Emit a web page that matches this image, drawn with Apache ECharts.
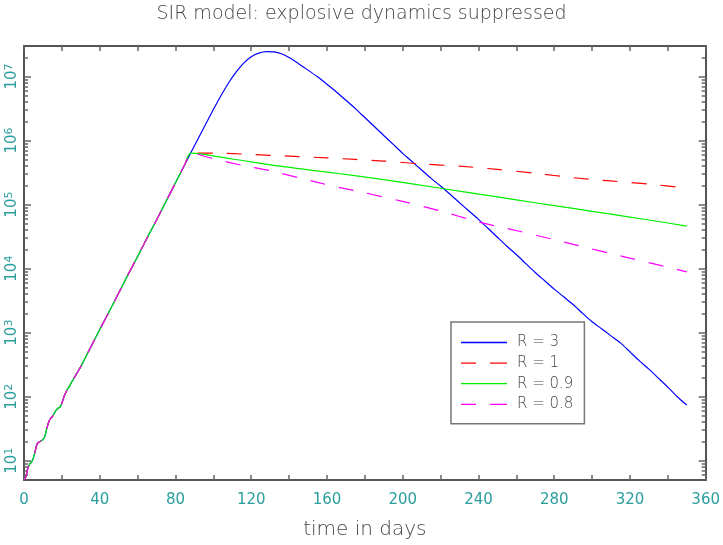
<!DOCTYPE html>
<html><head><meta charset="utf-8">
<script src="https://cdn.jsdelivr.net/npm/echarts@6/dist/echarts.min.js"></script>
<style>html,body{margin:0;padding:0;background:#fff}#chart{width:723px;height:545px}</style>
</head><body><div id="chart"></div>
<script>
const titleText = 'SIR model: explosive dynamics suppressed';
const xAxisName = 'time in days';
const xMin = 0, xMax = 360, xStep = 40;
const yMin = 5, yMax = 3e7;
const yMajorTicks = [10, 100, 1e3, 1e4, 1e5, 1e6, 1e7];
const yMinorTicks = [6,7,8,9, 20,30,40,50,60,70,80,90, 200,300,400,500,600,700,800,900,
  2e3,3e3,4e3,5e3,6e3,7e3,8e3,9e3, 2e4,3e4,4e4,5e4,6e4,7e4,8e4,9e4,
  2e5,3e5,4e5,5e5,6e5,7e5,8e5,9e5, 2e6,3e6,4e6,5e6,6e6,7e6,8e6,9e6, 2e7];
const seriesNames = ['R = 3', 'R = 1', 'R = 0.9', 'R = 0.8'];
const seriesColors = ['#0000ff', '#ff0000', '#00ee00', '#ff00ff'];

// shared early phase (all scenarios identical)
const earlyDays  = [0,1,2,3,4,5,6,7,8,9,10,11,12,13,14,15,16,17,18,19,20,21,22,23,24,25,26,27,28,29,30,35,40,45,50,55,60,65,70,75,80,85];
const earlyCases = [5,5.6,7.6,8.9,9.5,11.2,14.5,18.6,19.5,20.4,21.4,24,31.6,39.8,45.7,49,55,61.7,66,69,79,98,115,132,145,166,186,209,234,263,295,575,1120,2140,4170,8130,15500,30200,57500,112000,219000,427000];

// R = 3
const r3Days  = [88,92,96,100,104,108,112,116,120,124,128,132,136,140,145,150,155,160,165,170,175,180,185,190,195,200,205,210,215,220,225,230,235,240,245,250,255,260,265,270,275,280,285,290,295,300,305,310,315,320,325,330,335,340,345,350];
const r3Cases = [638000,1080000,1820000,3050000,5010000,7940000,11700000,16200000,20400000,23200000,24500000,24300000,22700000,19800000,15900000,12600000,9900000,
  7590000,5750000,4270000,3160000,2290000,1660000,1200000,871000,631000,468000,347000,257000,195000,145000,107000,79400,58900,42700,30900,22400,16600,12000,8710,6460,4790,3630,2750,2000,1480,1150,891,692,501,363,269,195,141,100,74];
// R = 1
const r1Days  = [88,100,115,130,145,160,175,190,210,230,250,270,290,310,330,350];
const r1Cases = [638000,638000,617000,589000,562000,537000,507000,479000,432000,398000,355000,309000,263000,234000,209000,182000];
// R = 0.9
const r09Days  = [88,110,135,165,190,220,250,270,290,310,330,350];
const r09Cases = [638000,516000,398000,309000,245000,180000,132000,107000,87100,70800,57500,46200];
// R = 0.8
const r08Days  = [88,100,115,130,147,163,180,200,220,240,265,290,315,343,350];
const r08Cases = [638000,521000,412000,339000,254000,195000,153000,112000,79400,53700,36300,24000,15800,10000,8900];

const lateDays = [r3Days, r1Days, r09Days, r08Days];
const lateCases = [r3Cases, r1Cases, r09Cases, r08Cases];

function buildData(days, cases) {
  const d = earlyDays.map((t, i) => [t, earlyCases[i]]);
  days.forEach((t, i) => d.push([t, cases[i]]));
  return d;
}

const frameColor = '#555';
const textColor = '#444';
const tickColor = '#666';
const labelColor = '#2a9d9d';
const font = 'DejaVu Sans';

function yAxisDef(position, minor) {
  return {
    type: 'log', logBase: 10, min: yMin, max: yMax, position: position,
    axisLine: { show: !minor, lineStyle: { color: frameColor, width: 2 } },
    axisTick: { show: true, inside: true, length: minor ? 4 : 7, lineStyle: { color: tickColor, width: 1.5 },
      customValues: minor ? yMinorTicks : yMajorTicks },
    axisLabel: {
      show: !minor && position === 'left', customValues: yMajorTicks, rotate: 90, margin: 4,
      formatter: v => '{b|10}{e|' + Math.round(Math.log10(v)) + '}',
      rich: {
        b: { fontSize: 15, color: labelColor, fontFamily: font, lineHeight: 16 },
        e: { fontSize: 11, color: labelColor, fontFamily: font, lineHeight: 11, verticalAlign: 'top' }
      }
    },
    splitLine: { show: false }, minorTick: { show: false }, minorSplitLine: { show: false }
  };
}

function xAxisDef(position) {
  const bottom = position === 'bottom';
  return {
    type: 'value', min: xMin, max: xMax, interval: xStep, position: position,
    name: bottom ? xAxisName : '', nameLocation: 'middle', nameGap: 40,
    nameTextStyle: { color: textColor, fontSize: 20, fontFamily: font, fontWeight: 300 },
    axisLine: { show: true, lineStyle: { color: frameColor, width: 2 } },
    axisTick: { show: true, inside: true, length: 5, lineStyle: { color: tickColor, width: 1.5 } },
    minorTick: { show: true, splitNumber: 2, length: 5, lineStyle: { color: tickColor, width: 1.5 } },
    axisLabel: { show: bottom, color: labelColor, fontSize: 15, fontFamily: font, margin: 13 },
    splitLine: { show: false }, minorSplitLine: { show: false }
  };
}

const dashes = [null, [15, 14], null, [15, 14]];
const solidIcon = 'path://M0,0h46v1.3h-46z';
const dashedIcon = 'path://M0,0h15v1.3h-15zM29,0h17v1.3h-17z';

const chart = echarts.init(document.getElementById('chart'), null, { renderer: 'canvas' });
chart.setOption({
  animation: false,
  backgroundColor: '#ffffff',
  title: { text: titleText, left: 'center', top: 0,
    textStyle: { color: textColor, fontSize: 19, fontWeight: 300, fontFamily: font } },
  grid: { left: 24, right: 15, top: 46, bottom: 58, containLabel: false },
  xAxis: [xAxisDef('bottom'), xAxisDef('top')],
  yAxis: [yAxisDef('left', false), yAxisDef('left', true), yAxisDef('right', false), yAxisDef('right', true)],
  legend: {
    orient: 'vertical', left: 451, top: 322,
    padding: [13, 11, 12, 10], itemWidth: 46, itemHeight: 14, itemGap: 5.6,
    borderColor: '#777', borderWidth: 1.5, backgroundColor: '#fff',
    symbolKeepAspect: true,
    textStyle: { color: textColor, fontSize: 15, fontFamily: font, fontWeight: 300, padding: [0, 0, 0, 5] },
    data: seriesNames.map((name, i) => ({
      name: name,
      icon: dashes[i] ? dashedIcon : solidIcon,
      itemStyle: { color: seriesColors[i], opacity: 1, borderWidth: 0 }
    }))
  },
  series: seriesNames.map((name, i) => ({
    name: name, type: 'line', xAxisIndex: 0, yAxisIndex: 0,
    data: buildData(lateDays[i], lateCases[i]),
    smooth: 0.25, symbol: 'none', showSymbol: false,
    color: seriesColors[i],
    lineStyle: { color: seriesColors[i], width: 1.2, type: dashes[i] || 'solid' },
    z: 2 + i
  }))
});
</script></body></html>
